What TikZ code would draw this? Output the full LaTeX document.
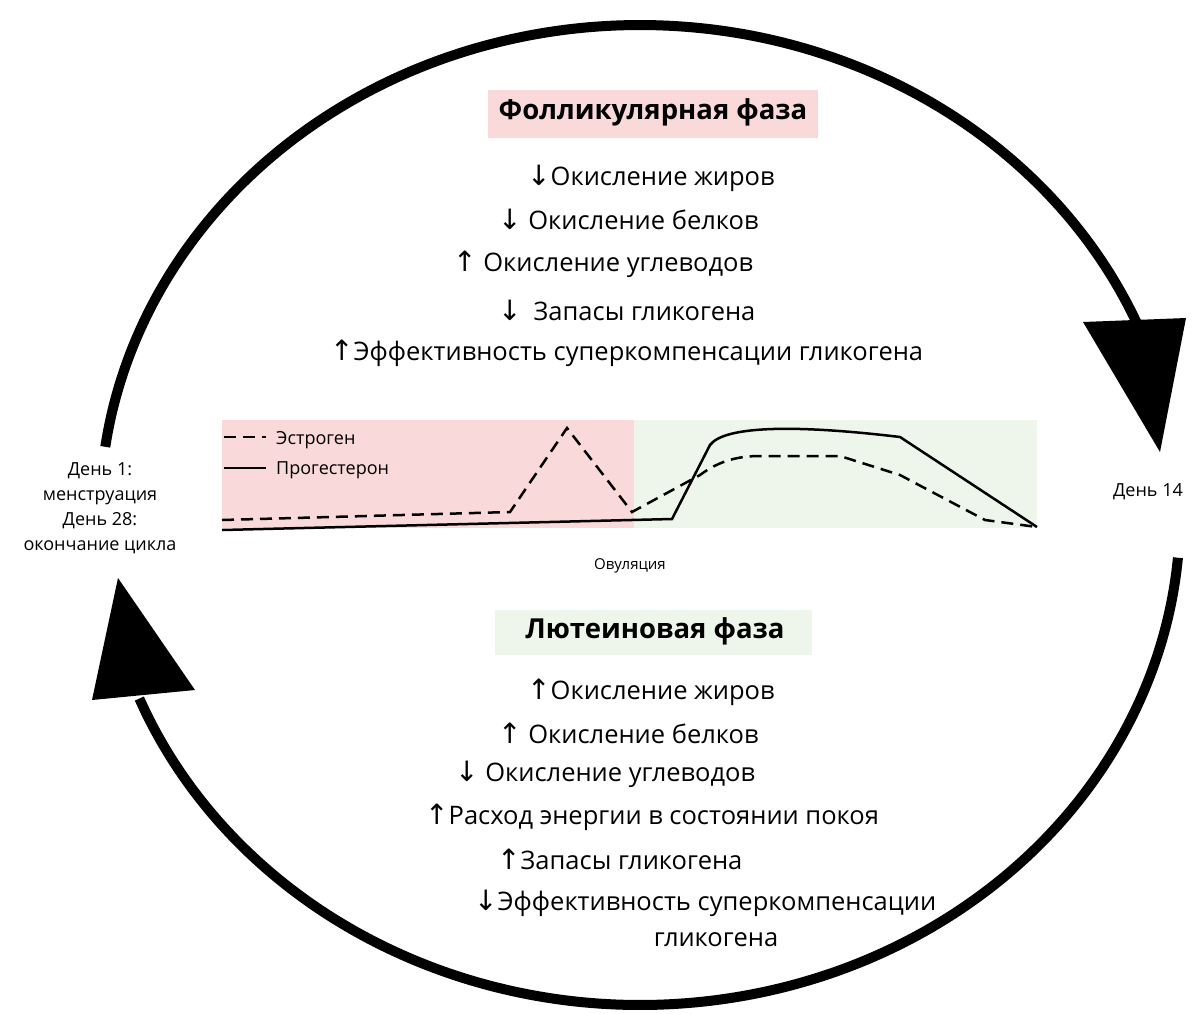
\documentclass[tikz,border=0pt]{standalone}
\usepackage{fontspec}
\setmainfont{Open Sans}
\newfontfamily\arr{DejaVu Sans}
\newcommand{\dn}{{\arr\fontsize{28}{28}\selectfont↓}}
\newcommand{\up}{{\arr\fontsize{28}{28}\selectfont↑}}
\begin{document}
\begin{tikzpicture}[x=1pt,y=-1pt,
  body/.style={anchor=west,font=\fontsize{25.5}{28}\selectfont,inner sep=0pt},
  small/.style={font=\fontsize{18}{22}\selectfont,align=center,inner sep=0pt},
  ttl/.style={font=\fontsize{27.5}{30}\selectfont\bfseries,inner sep=0pt}]
\useasboundingbox (0,0) rectangle (1200,1013);
\definecolor{pinkbg}{HTML}{F9D9D9}
\definecolor{greenbg}{HTML}{EEF5EA}
% cycle arcs
\draw[line width=10pt] plot[domain=172:22,samples=80,smooth] ({640+540*cos(\x)},{515-490*sin(\x)});
\fill (1083,322) -- (1186,318) -- (1160,452) -- cycle;
\draw[line width=10pt] plot[domain=-5:-158,samples=80,smooth] ({640+540*cos(\x)},{515-490*sin(\x)});
\fill (92,700) -- (195,690) -- (118,578) -- cycle;
% chart
\fill[pinkbg] (222,420) rectangle (634,528);
\fill[greenbg] (634,420) rectangle (1037,528);
\draw[line width=2.5pt] (222,530) -- (672,519) -- (710,445) .. controls (725,425) and (800,425) .. (900,437) -- (1037,527);
\draw[line width=2.5pt,dash pattern=on 12pt off 7pt] (222,520) -- (510,512) -- (567,428) -- (632,512) -- (700,475) .. controls (720,460) and (740,456) .. (760,456) -- (840,456) -- (900,475) -- (985,520) -- (1037,527);
\draw[line width=2.5pt,dash pattern=on 12pt off 7pt] (224,437) -- (266,437);
\draw[line width=2.5pt] (224,468) -- (266,468);
\node[small,anchor=west] (le) at (276,440) {Эстроген};
\node[small,anchor=west] (lp) at (276,470) {Прогестерон};
\node[small,font=\fontsize{15}{18}\selectfont] (ov) at (630,566) {Овуляция};
% side labels
\node[small] (d1) at (100,508) {День 1:\\[3pt]менструация\\[3pt]День 28:\\[3pt]окончание цикла};
\node[small] (d14) at (1148,492) {День 14};
% follicular
\fill[pinkbg] (488,90) rectangle (818,138);
\node[ttl] (t1) at (653,112) {Фолликулярная фаза};
\node[body] (f1) at (527,178) {\dn Окисление жиров};
\node[body] (f2) at (498,219) {\dn\ Окисление белков};
\node[body] (f3) at (453,264) {\up\ Окисление углеводов};
\node[body] (f4) at (498,310) {\dn\hspace{12pt}Запасы гликогена};
\node[body] (f5) at (330,353) {\up Эффективность суперкомпенсации гликогена};
% luteal
\fill[greenbg] (495,610) rectangle (812,655);
\node[ttl] (t2) at (655,631) {Лютеиновая фаза};
\node[body] (l1) at (527,692) {\up Окисление жиров};
\node[body] (l2) at (498,733) {\up\ Окисление белков};
\node[body] (l3) at (455,774) {\dn\ Окисление углеводов};
\node[body] (l4) at (425,817) {\up Расход энергии в состоянии покоя};
\node[body] (l5) at (497,859) {\up Запасы гликогена};
\node[body] (l6) at (474,903) {\dn Эффективность суперкомпенсации};
\node[body,anchor=center] (l7) at (716,940) {гликогена};
\end{tikzpicture}
\end{document}
